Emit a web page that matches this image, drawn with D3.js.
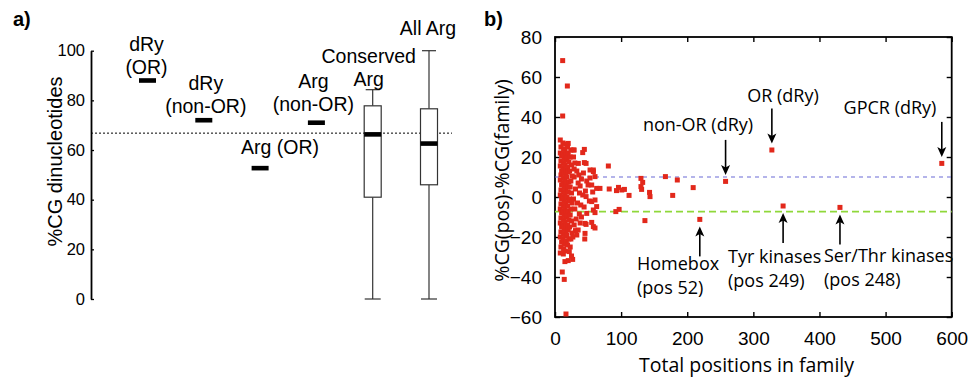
<!DOCTYPE html>
<html>
<head>
<meta charset="utf-8">
<script src="https://cdn.jsdelivr.net/npm/d3@7"></script>
<style>
  body { margin: 0; background: #fff; }
  svg { display: block; }
</style>
</head>
<body>
<div id="chart"></div>
<script>
// ---- panel a data ----
const categories = ["dRy (OR)", "dRy (non-OR)", "Arg (OR)", "Arg (non-OR)", "Conserved Arg", "All Arg"];
const categoryLines = [["dRy", "(OR)"], ["dRy", "(non-OR)"], ["Arg (OR)"], ["Arg", "(non-OR)"], ["Conserved", "Arg"], ["All Arg"]];
const singleValues = [88, 72, 52.7, 71, null, null];
const boxStats = [null, null, null, null,
  { min: 0, q1: 41, median: 66.3, q3: 77.8, max: 84.3 },
  { min: 0, q1: 46, median: 62.6, q3: 76.6, max: 100 }];
const genomeLine = 66.8;
const yTicksA = [0, 20, 40, 60, 80, 100];

// ---- panel b data ----
const xTicksB = [0, 100, 200, 300, 400, 500, 600];
const yTicksB = [-60, -40, -20, 0, 20, 40, 60, 80];
const blueLine = 10;
const greenLine = -7.3;
const points = [
  [11.6, 68.2], [18.7, 55.5], [11.6, 40.5], [80.7, 15.5], [258, 7.8], [328, 23.5], [585, 16.8],
  [219, -11.2], [345, -4.5], [431, -5.2], [167, 10.2], [185, 8.5], [209, 4.7], [178, 0.8],
  [136, -11.8], [130, 9.3], [132.6, 7.3], [130, 5.2], [131, 3.8], [143, 2.3], [143.7, 0.2],
  [112, 0.8], [93, 3.2], [96, 4.8], [101, 3.5], [105, 3.8], [82, 4], [92, -7.3], [97, -6.2],
  // dense cluster
  [8, 28.5], [9, 25], [8, 22], [10, 20.5], [9, 18], [8, 15.5], [10, 13], [9, 11], [8, 8.5], [10, 6],
  [9, 3.5], [8, 1], [10, -1], [9, -3.5], [8, -6], [10, -8], [9, -10.5], [8, -13], [10, -15], [9, -17.5],
  [8, -20], [10, -22.5], [9, -25], [8, -28], [11, -37.5],
  [12, 27], [13, 24], [12, 21.5], [14, 19.5], [13, 17], [12, 14.5], [14, 12], [13, 9.5], [12, 7], [14, 5],
  [13, 2.5], [12, 0], [14, -2], [13, -4.5], [12, -7], [14, -9], [13, -11.5], [12, -14], [14, -16], [13, -18.5],
  [12, -21], [14, -23.5], [13, -26], [12.6, -28.5], [14, -41.2],
  [16, 26.5], [15, 23], [17, 21], [16, 18.5], [15, 16], [17, 13.5], [16, 11], [15, 8.5], [17, 6.5], [16, 4],
  [15, 1.5], [17, -0.5], [16, -3], [15, -5.5], [17, -7.5], [16, -10], [15, -12.5], [17, -14.5], [16, -17], [15, -19.5],
  [17, -22], [16.6, -23.5], [15, -27], [16.6, -58.5], [15, -32.3],
  [19, 25], [20, 22], [18, 19.5], [21, 17.5], [19, 15], [20, 12.5], [18, 10], [21, 7.5], [19, 5], [20, 2.5],
  [18, 0], [21, -2], [19, -4.5], [20, -7], [18, -9.5], [21, -11.5], [19, -14], [20, -16.5], [18, -19], [21, -21],
  [19, -24], [21.6, -27.3], [20, -31.8], [20, 26.8],
  [24, 23.5], [23, 20], [25, 16], [22, 13], [26, 10.5], [24, 8], [23, 5], [25, 2], [22, -1], [26, -3],
  [24, -6], [23, -9], [25, -12], [22, -15], [26, -18], [24, -21], [23, -25], [26.7, -31.2], [25, -29.5], [27.7, 23.5],
  [30, 17], [33, 13], [29, 10], [35, 7], [31, 4], [37, 2], [28, -1], [34, -3], [30, -6], [36.8, -8.5],
  [32, -11], [29, -14], [31, -16.8], [35, -16.5], [38, 5.5], [40, 9], [39, -4], [33, -19], [29, 23.5], [28, 20],
  [41.9, 22.2], [44.4, 23.8], [35.3, 16.8], [44.4, 17.2], [43, 12], [48, 8], [47, 16.8], [46, 3], [47, 0.2], [52, -2],
  [45.4, -13.2], [45.4, -18.2], [45, -21], [47, -13.7], [53, 13.5], [58, 13.5], [55.5, 6], [57, 2.5], [55.5, -2.3], [58, -6.5],
  [55.5, -12.7], [58, -14.8], [60.5, -15.5], [63, -4.8], [63, 4.3], [68, 4.3], [48, -8.2], [53, 9.5], [60.5, 10.2], [58, 12.7],
  [60.5, -1.5], [60.5, -7.8], [40, -10], [42, 1], [36, 11], [50, 6], [44, -5], [38, -13], [27, -20], [29, 14]
];
const annotations = [
  { lines: ["non-OR (dRy)"], at: [258, 7.8], dir: "down", tx: 698, ty: 130.5 },
  { lines: ["OR (dRy)"], at: [328, 23.5], dir: "down", tx: 783, ty: 101.5 },
  { lines: ["GPCR (dRy)"], at: [585, 16.8], dir: "down", tx: 890, ty: 114 },
  { lines: ["Homebox", "(pos 52)"], at: [219, -11.2], dir: "up", tx: 637, ty: 270 },
  { lines: ["Tyr kinases", "(pos 249)"], at: [345, -4.5], dir: "up", tx: 728, ty: 263 },
  { lines: ["Ser/Thr kinases", "(pos 248)"], at: [431, -5.2], dir: "up", tx: 824, ty: 262 }
];

const W = 977, H = 380;
const svg = d3.select("#chart").append("svg").attr("width", W).attr("height", H);
const sansA = "'Liberation Sans', Arial, sans-serif";
const sansB = "'Open Sans', sans-serif";

// ================= panel a =================
const yA = d3.scaleLinear().domain([0, 100]).range([299, 50.7]);
const xA = d3.scalePoint().domain(categories).range([147.5, 429]);
const axisXA = 91;
const markW = 17;
const labelGap = [6, 7, 14, 12, 4, 16];
const labelDx = [-1, 2, 20, -3, -4, -1];

svg.append("text").text("a)").attr("x", 13).attr("y", 25.5)
  .style("font-family", sansA).style("font-weight", "bold").style("font-size", "20px");

const gA = svg.append("g").attr("transform", `translate(${axisXA},0)`)
  .call(d3.axisLeft(yA).tickValues(yTicksA).tickSizeInner(-3).tickSizeOuter(0).tickPadding(6));
gA.select(".domain").attr("stroke-width", 1.8);
gA.selectAll(".tick line").attr("stroke-width", 1.3);
gA.selectAll(".tick text").style("font-family", sansA).style("font-size", "16.5px").attr("fill", "#000");

svg.append("text").text("%CG dinucleotides")
  .attr("transform", "translate(61.5,161.5) rotate(-90)")
  .attr("text-anchor", "middle")
  .style("font-family", sansA).style("font-size", "20px");

svg.append("line")
  .attr("x1", axisXA).attr("x2", 452)
  .attr("y1", yA(genomeLine)).attr("y2", yA(genomeLine))
  .attr("stroke", "#000").attr("stroke-width", 1).attr("stroke-dasharray", "2,2");

categories.forEach((c, i) => {
  const cx = xA(c);
  let topY;
  if (singleValues[i] != null) {
    svg.append("rect").attr("x", cx - markW / 2).attr("y", yA(singleValues[i]) - 2.3)
      .attr("width", markW).attr("height", 4.6).attr("fill", "#000");
    topY = yA(singleValues[i]);
  } else {
    const b = boxStats[i];
    const g = svg.append("g").attr("stroke", "#333").attr("stroke-width", 1.2).attr("fill", "none");
    g.append("line").attr("x1", cx).attr("x2", cx).attr("y1", yA(b.max)).attr("y2", yA(b.q3));
    g.append("line").attr("x1", cx).attr("x2", cx).attr("y1", yA(b.q1)).attr("y2", yA(b.min));
    g.append("line").attr("x1", cx - 7).attr("x2", cx + 7).attr("y1", yA(b.max)).attr("y2", yA(b.max));
    g.append("line").attr("x1", cx - 8).attr("x2", cx + 8).attr("y1", yA(b.min)).attr("y2", yA(b.min));
    g.append("rect").attr("x", cx - markW / 2).attr("y", yA(b.q3))
      .attr("width", markW).attr("height", yA(b.q1) - yA(b.q3)).attr("fill", "#fff");
    svg.append("rect").attr("x", cx - markW / 2).attr("y", yA(b.median) - 2.3)
      .attr("width", markW).attr("height", 4.6).attr("fill", "#000");
    topY = yA(b.max);
  }
  const lines = categoryLines[i];
  const last = topY - labelGap[i];
  lines.forEach((t, j) => {
    svg.append("text").text(t)
      .attr("x", cx + labelDx[i]).attr("y", last - (lines.length - 1 - j) * 23)
      .attr("text-anchor", "middle")
      .style("font-family", sansA).style("font-size", "19.5px");
  });
});

// ================= panel b =================
const xB = d3.scaleLinear().domain([0, 600]).range([555, 951.7]);
const yB = d3.scaleLinear().domain([-60, 80]).range([317, 37]);

svg.append("text").text("b)").attr("x", 484).attr("y", 25.5)
  .style("font-family", sansA).style("font-weight", "bold").style("font-size", "20px");

function styleAxis(g) {
  g.select(".domain").remove();
  g.selectAll(".tick line").attr("stroke", "#000").attr("stroke-width", 1.4);
  g.selectAll(".tick text").style("font-family", sansA).style("font-size", "19px").attr("fill", "#000");
}
svg.append("g").attr("transform", `translate(0,${yB(-60)})`)
  .call(d3.axisBottom(xB).tickValues(xTicksB).tickSizeInner(-5).tickSizeOuter(0).tickPadding(14.5)).call(styleAxis);
svg.append("g").attr("transform", `translate(0,${yB(80)})`)
  .call(d3.axisTop(xB).tickValues(xTicksB).tickSizeInner(-5).tickSizeOuter(0).tickFormat("")).call(styleAxis);
svg.append("g").attr("transform", `translate(${xB(0)},0)`)
  .call(d3.axisLeft(yB).tickValues(yTicksB).tickSizeInner(-5).tickSizeOuter(0).tickPadding(13)).call(styleAxis);
svg.append("g").attr("transform", `translate(${xB(600)},0)`)
  .call(d3.axisRight(yB).tickValues(yTicksB).tickSizeInner(-5).tickSizeOuter(0).tickFormat("")).call(styleAxis);

svg.append("rect")
  .attr("x", xB(0)).attr("y", yB(80))
  .attr("width", xB(600) - xB(0)).attr("height", yB(-60) - yB(80))
  .attr("fill", "none").attr("stroke", "#000").attr("stroke-width", 1.8);

svg.append("line").attr("x1", xB(0)).attr("x2", xB(600))
  .attr("y1", yB(blueLine)).attr("y2", yB(blueLine))
  .attr("stroke", "#6b6bd6").attr("stroke-width", 1.2).attr("stroke-dasharray", "4,4");
svg.append("line").attr("x1", xB(0)).attr("x2", xB(600))
  .attr("y1", yB(greenLine)).attr("y2", yB(greenLine))
  .attr("stroke", "#8fd83a").attr("stroke-width", 1.6).attr("stroke-dasharray", "7,4");

const sq = 5;
svg.append("g").selectAll("rect").data(points).join("rect")
  .attr("x", d => xB(d[0]) - sq / 2).attr("y", d => yB(d[1]) - sq / 2)
  .attr("width", sq).attr("height", sq).attr("fill", "#e2281b");

svg.append("text").text("%CG(pos)-%CG(family)")
  .attr("transform", "translate(509,180.5) rotate(-90)")
  .attr("text-anchor", "middle")
  .style("font-family", sansB).style("font-size", "19.5px");
svg.append("text").text("Total positions in family")
  .attr("x", 746.5).attr("y", 371.5).attr("text-anchor", "middle")
  .style("font-family", sansB).style("font-size", "19.5px");

annotations.forEach(a => {
  const px = xB(a.at[0]), py = yB(a.at[1]);
  let tip, tail;
  if (a.dir === "down") { tip = py - 6.5; tail = tip - 35; }
  else { tip = py + 7; tail = tip + 30; }
  const s = a.dir === "down" ? -1 : 1;
  svg.append("line").attr("x1", px).attr("x2", px).attr("y1", tail).attr("y2", tip + s * 6)
    .attr("stroke", "#000").attr("stroke-width", 1.6);
  svg.append("path")
    .attr("d", `M${px},${tip} L${px - 4.5},${tip + s * 10} L${px},${tip + s * 7.5} L${px + 4.5},${tip + s * 10} Z`)
    .attr("fill", "#000");
  a.lines.forEach((t, j) => {
    svg.append("text").text(t).attr("x", a.tx).attr("y", a.ty + j * 24)
      .attr("text-anchor", a.dir === "down" ? "middle" : "start")
      .style("font-family", sansB).style("font-size", "18px");
  });
});
</script>
</body>
</html>
